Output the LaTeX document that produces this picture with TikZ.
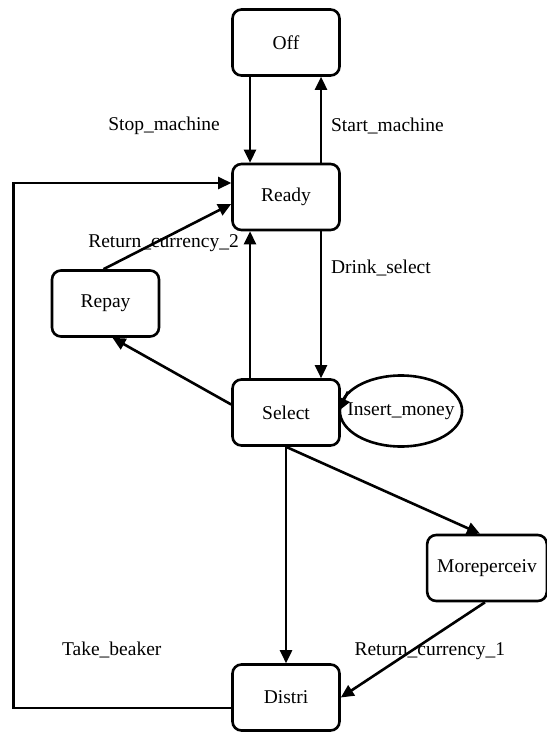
\documentclass[tikz,border=0pt]{standalone}
\usepackage{fontspec}
\setmainfont{Liberation Serif}
\usetikzlibrary{arrows.meta,shapes.geometric}
\tikzset{>={Triangle[length=13pt,width=12pt]},
  box/.style={draw,rounded corners=9pt,minimum width=107pt,minimum height=66pt,inner xsep=10pt},
  loopnode/.style={draw,ellipse,inner xsep=-10.4pt,inner ysep=0pt,minimum height=71pt}}

\begin{document}
\begin{tikzpicture}[x=1pt,y=-1pt,line width=2.6pt,font=\fontsize{19.5}{22}\selectfont]
        \useasboundingbox (0,0) rectangle (546,733);

        \node [box]      (Off)         at (286,42.5)  {Off};
        \node [box]      (Ready)       at (286,197)   {Ready};
        \node [box]      (Repay)       at (105.5,303.5) {Repay};
        \node [box]      (Select)      at (286,412.5) {Select};
        \node [loopnode] (Insert)      at (401,411)   {Insert\_money};
        \node [box]      (Moreperceiv) at (487,568)   {Moreperceiv};
        \node [box]      (Distri)      at (286,697.5) {Distri};

        \draw [->] ([xshift=-36pt]Off.south)    to node [pos=0.575, left=25.5pt] {Stop\_machine}  ([xshift=-36pt]Ready.north);
        \draw [->] ([xshift=35pt]Ready.north)   to node [pos=0.425, right=5.5pt] {Start\_machine} ([xshift=35pt]Off.south);
        \draw [->] ([xshift=35pt]Ready.south)   to node [pos=0.25, right=5.5pt]  {Drink\_select}  ([xshift=35pt]Select.north);
        \draw [->] ([xshift=-36pt]Select.north) to ([xshift=-36pt]Ready.south);
        \draw [->] ([xshift=-2pt]Repay.north)   to node [pos=0.47, yshift=-5pt]  {Return\_currency\_2} ([yshift=-7pt]Ready.west);
        \draw [->] ([yshift=8pt]Select.west)    to ([xshift=7pt]Repay.south);
        \draw [->] (Insert.160) -- (Insert.west);
        \draw [->] (Select.south) to ([xshift=-7pt]Moreperceiv.north);
        \draw [->] (Select.south) to (Distri.north);
        \draw [->] ([xshift=-2pt]Moreperceiv.south) to node [pos=0.383, yshift=-12pt] {Return\_currency\_1} (Distri.east);
        \draw [->] ([yshift=-10.5pt]Distri.west) -- node [pos=0.548, yshift=58pt] {Take\_beaker} ++(-218,0) |- ([yshift=14pt]Ready.west);
\end{tikzpicture}
\end{document}
